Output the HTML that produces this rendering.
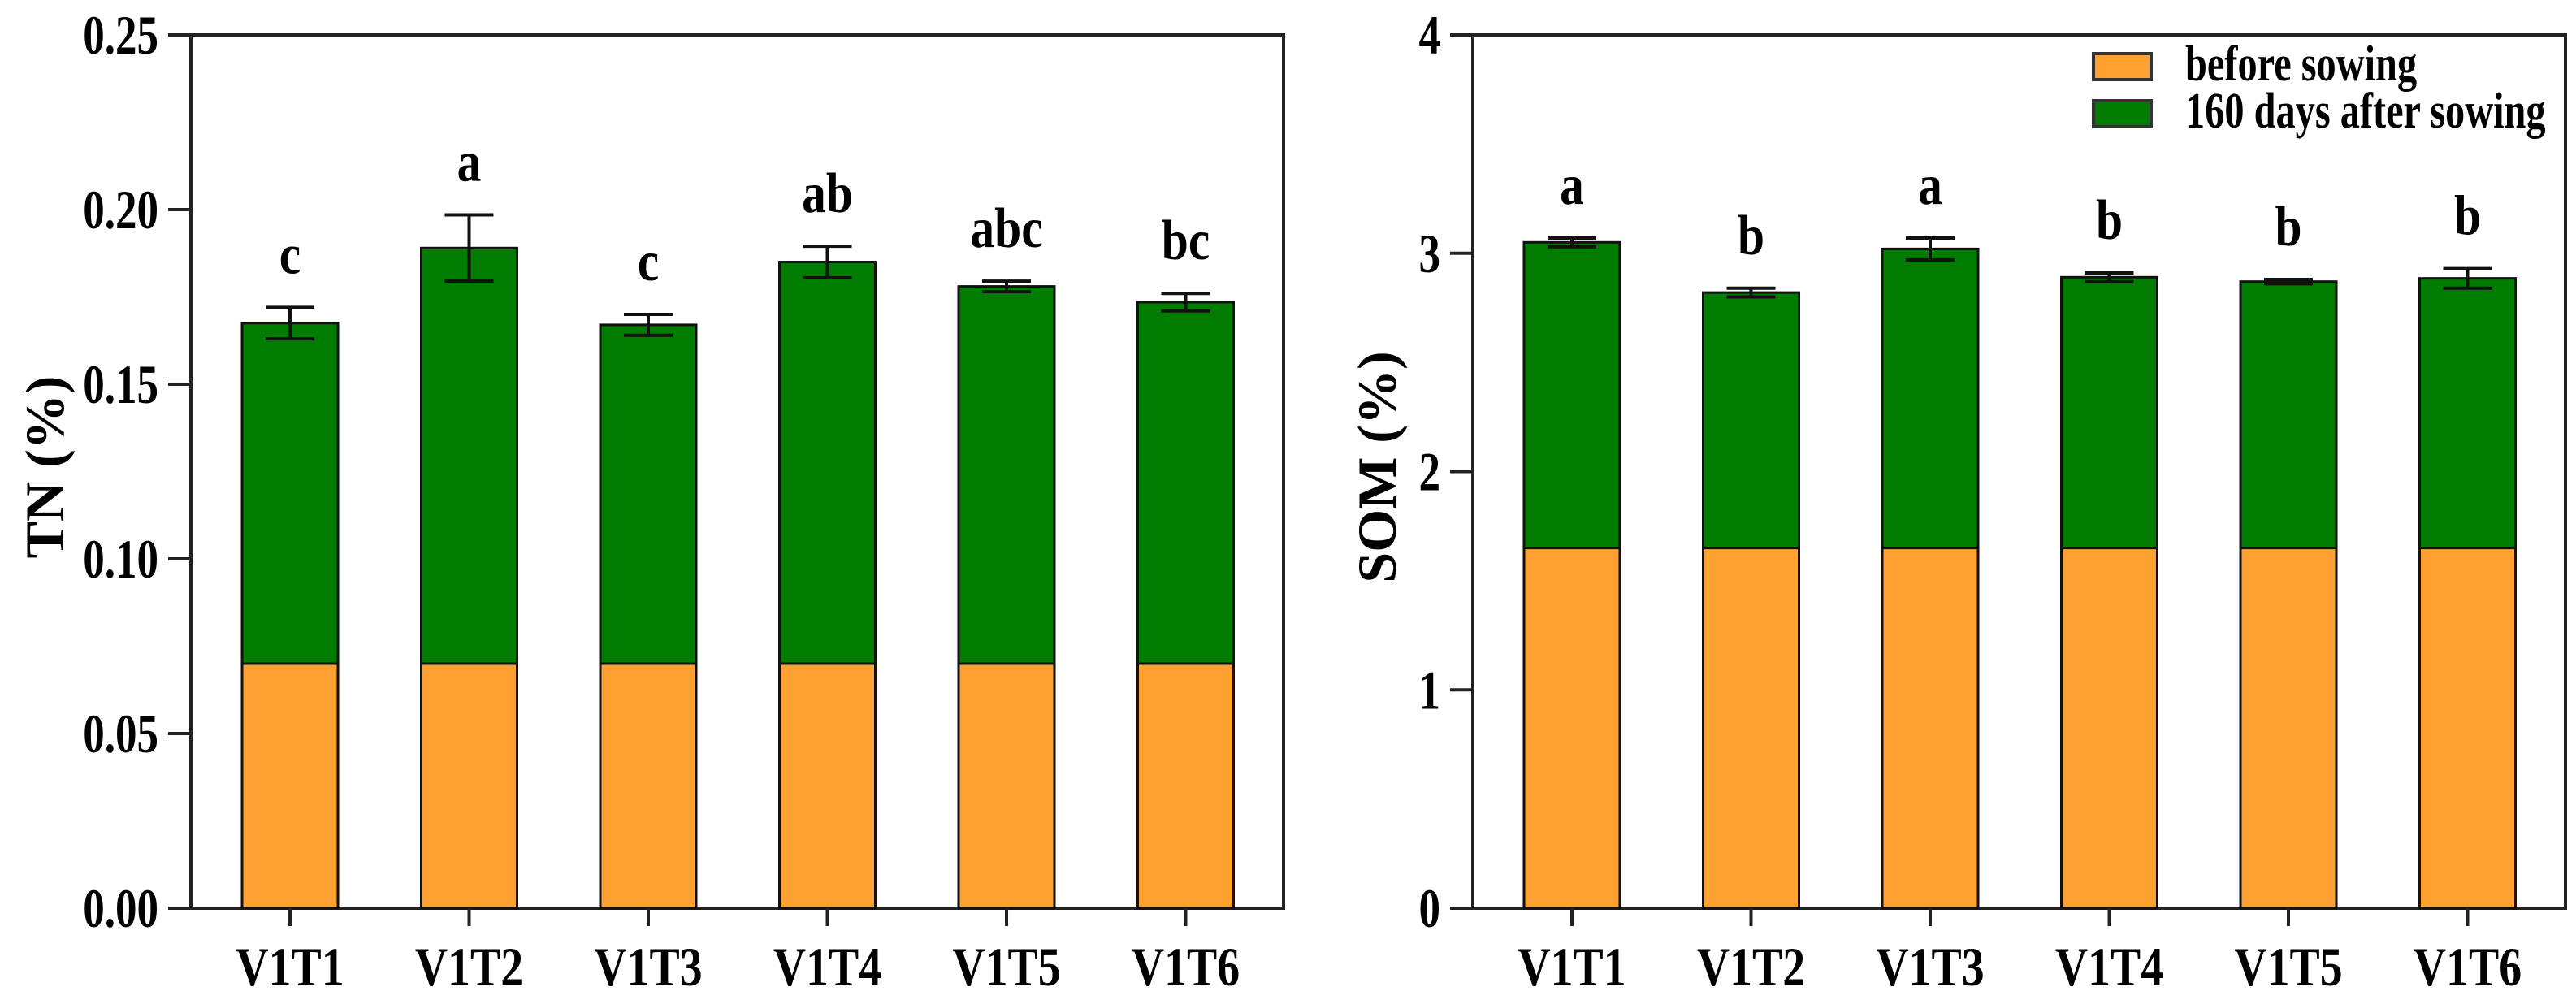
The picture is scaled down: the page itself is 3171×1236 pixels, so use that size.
<!DOCTYPE html>
<html><head><meta charset="utf-8"><style>
html,body{margin:0;padding:0;background:#fff;}
svg{display:block;font-family:"Liberation Serif",serif;font-weight:bold;}
</style></head><body>
<svg id="chart" width="3171" height="1236" viewBox="0 0 3171 1236" xmlns="http://www.w3.org/2000/svg"></svg>
<script>
const categories = ["V1T1","V1T2","V1T3","V1T4","V1T5","V1T6"];
const tnBefore = [0.07,0.07,0.07,0.07,0.07,0.07];
const tnAfter = [0.1675,0.189,0.167,0.185,0.178,0.1735];
const tnErr = [0.0045,0.0095,0.003,0.0045,0.0015,0.0025];
const tnLetters = ["c","a","c","ab","abc","bc"];
const tnTicks = ["0.00","0.05","0.10","0.15","0.20","0.25"];
const somBefore = [1.65,1.65,1.65,1.65,1.65,1.65];
const somAfter = [3.05,2.82,3.02,2.89,2.87,2.885];
const somErr = [0.02,0.02,0.05,0.02,0.01,0.045];
const somLetters = ["a","b","a","b","b","b"];
const somTicks = ["0","1","2","3","4"];

const NS = "http://www.w3.org/2000/svg";
const svg = document.getElementById("chart");
function mk(tag, attrs, parent){
  const e = document.createElementNS(NS, tag);
  for (const k in attrs) e.setAttribute(k, attrs[k]);
  (parent||svg).appendChild(e);
  return e;
}
const ORANGE="#FFA033", GREEN="#007D00";

function panel(cfg){
  const g = mk("g",{});
  
  
  const L=cfg.left,R=cfg.right,T=43,B=1118;
  const y = v => B - (v - 0)/(cfg.max) * (B-T);
  const bandW = 220.5;
  const x0 = L + 122;
  const xc = i => x0 + i*bandW;
  const bw = 118;
  const frame = mk("rect",{x:L,y:T,width:R-L,height:B-T,fill:"none",stroke:"#222","stroke-width":4},g);
  
  
  cfg.ticks.forEach((t,i)=>{
    const v = parseFloat(t);
    const yy = y(v);
    const tk = mk("line",{x1:L-28,x2:L,y1:yy,y2:yy,stroke:"#222","stroke-width":4},g);
    
    
    const tx = mk("text",{transform:`translate(${L-40},${yy+23}) scale(0.78,1)`,"text-anchor":"end","font-size":68},g);
    tx.textContent = t;
    
    
  });
  categories.forEach((c,i)=>{
    const cx = xc(i);
    const b1 = mk("rect",{x:cx-bw/2,y:y(cfg.before[i]),width:bw,height:B-y(cfg.before[i]),fill:ORANGE,stroke:"#111","stroke-width":3},g);
    
    
    const b2 = mk("rect",{x:cx-bw/2,y:y(cfg.after[i]),width:bw,height:y(cfg.before[i])-y(cfg.after[i]),fill:GREEN,stroke:"#111","stroke-width":3},g);
    
    
    const top=y(cfg.after[i]+cfg.err[i]), bot=y(cfg.after[i]-cfg.err[i]);
    const eb = mk("path",{d:`M${cx},${top}V${bot}M${cx-30},${top}H${cx+30}M${cx-30},${bot}H${cx+30}`,stroke:"#111","stroke-width":4,fill:"none"},g);
    
    
    const lt = mk("text",{transform:`translate(${cx},${top-42}) scale(0.85,1)`,"text-anchor":"middle","font-size":70},g);
    lt.textContent = cfg.letters[i];
    
    
    const xt = mk("line",{x1:cx,x2:cx,y1:B,y2:B+22,stroke:"#222","stroke-width":4},g);
    
    
    const xl = mk("text",{transform:`translate(${cx},${B+95}) scale(0.82,1)`,"text-anchor":"middle","font-size":68},g);
    xl.textContent = c;
    
    
  });
  const at = mk("text",{transform:`translate(${cfg.titleX},575) rotate(-90)`,"text-anchor":"middle","font-size":68},g);
  at.textContent = cfg.title;
  
  
}
panel({name:"tn-panel",left:235,right:1580,max:0.25,ticks:tnTicks,before:tnBefore,after:tnAfter,err:tnErr,letters:tnLetters,title:"TN (%)",titleX:78});
panel({name:"som-panel",left:1813,right:3158,max:4,ticks:somTicks,before:somBefore,after:somAfter,err:somErr,letters:somLetters,title:"SOM (%)",titleX:1718});

const lg = mk("g",{});


const items=[["before sowing",ORANGE,66],["160 days after sowing",GREEN,124]];
items.forEach(([t,col,yy])=>{
  const r = mk("rect",{x:2577,y:yy,width:71,height:32,fill:col,stroke:"#333","stroke-width":4},lg);
  
  
  const tx = mk("text",{transform:`translate(2690,${yy+33}) scale(0.78,1)`,"font-size":62},lg);
  tx.textContent = t;
  
  
});
</script>
</body></html>
